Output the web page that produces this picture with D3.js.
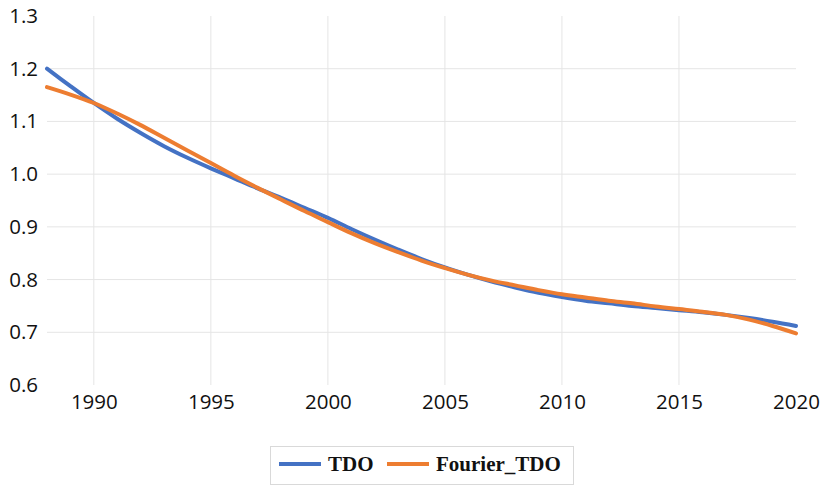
<!DOCTYPE html>
<html>
<head>
<meta charset="utf-8">
<script src="https://cdn.jsdelivr.net/npm/d3@7"></script>
<style>
  body { margin: 0; background: #fff; }
  svg { display: block; }
</style>
</head>
<body>
<script>
(function(d3) {
	var years = d3.range(1988, 2021);
	var tdo = [1.200, 1.167, 1.135, 1.105, 1.078, 1.053, 1.031, 1.011, 0.992, 0.973,
		0.955, 0.936, 0.917, 0.896, 0.876, 0.857, 0.839, 0.823, 0.809, 0.796,
		0.785, 0.775, 0.767, 0.760, 0.755, 0.750, 0.746, 0.742, 0.738, 0.733,
		0.727, 0.720, 0.712];
	var fourierTdo = [1.165, 1.151, 1.135, 1.115, 1.093, 1.069, 1.045, 1.021, 0.997, 0.974,
		0.952, 0.930, 0.909, 0.888, 0.869, 0.852, 0.836, 0.822, 0.809, 0.798,
		0.789, 0.780, 0.772, 0.766, 0.760, 0.755, 0.749, 0.744, 0.739, 0.733,
		0.724, 0.712, 0.698];
	var xTicks = [1990, 1995, 2000, 2005, 2010, 2015, 2020];
	var yTicks = [0.6, 0.7, 0.8, 0.9, 1.0, 1.1, 1.2, 1.3];
	var seriesNames = ["TDO", "Fourier_TDO"];
	var colors = ["#4472c4", "#ed7d31"];

	var width = 825,
	    height = 485;

	var svg = d3.select("body").append("svg")
	    .attr("width", width)
	    .attr("height", height);

	var x = d3.scaleLinear().domain([1988, 2020]).range([47, 796]);
	var y = d3.scaleLinear().domain([0.6, 1.3]).range([385, 16]);

	// grid
	svg.append("g").selectAll("line.h")
		.data(yTicks.filter(function(d){ return d > 0.65 && d < 1.25; }))
	  .enter().append("line")
		.attr("x1", x(1988)).attr("x2", x(2020))
		.attr("y1", function(d){ return y(d); })
		.attr("y2", function(d){ return y(d); })
		.attr("stroke", "#e5e5e5").attr("stroke-width", 1);

	svg.append("g").selectAll("line.v")
		.data(xTicks.filter(function(d){ return d < 2020; }))
	  .enter().append("line")
		.attr("x1", function(d){ return x(d); })
		.attr("x2", function(d){ return x(d); })
		.attr("y1", y(1.3)).attr("y2", y(0.6))
		.attr("stroke", "#e5e5e5").attr("stroke-width", 1);

	// axis labels
	var yAxis = svg.append("g")
		.attr("transform", "translate(38,0)")
		.call(d3.axisLeft(y).tickValues(yTicks).tickSize(0).tickPadding(0)
			.tickFormat(d3.format(".1f")));
	yAxis.select(".domain").remove();
	yAxis.selectAll("text")
		.attr("font-family", "'Open Sans', sans-serif")
		.attr("font-size", 20.5)
		.attr("fill", "#111");

	var xAxis = svg.append("g")
		.attr("transform", "translate(0,394)")
		.call(d3.axisBottom(x).tickValues(xTicks).tickSize(0).tickPadding(0)
			.tickFormat(d3.format("d")));
	xAxis.select(".domain").remove();
	xAxis.selectAll("text")
		.attr("font-family", "'Open Sans', sans-serif")
		.attr("font-size", 20.5)
		.attr("fill", "#111");

	// lines
	var line = d3.line()
		.x(function(d, i){ return x(years[i]); })
		.y(function(d){ return y(d); })
		.curve(d3.curveCatmullRom.alpha(0.5));

	[tdo, fourierTdo].forEach(function(vals, i) {
		svg.append("path")
			.datum(vals)
			.attr("d", line)
			.attr("fill", "none")
			.attr("stroke", colors[i])
			.attr("stroke-width", 4)
			.attr("stroke-linecap", "round");
	});

	// legend
	var legend = svg.append("g");
	legend.append("rect")
		.attr("x", 270.5).attr("y", 446.5)
		.attr("width", 303).attr("height", 38)
		.attr("fill", "#fff").attr("stroke", "#d9d9d9");

	var items = [{x: 279, name: seriesNames[0], color: colors[0]},
		{x: 387, name: seriesNames[1], color: colors[1]}];
	items.forEach(function(it) {
		legend.append("line")
			.attr("x1", it.x).attr("x2", it.x + 42)
			.attr("y1", 464).attr("y2", 464)
			.attr("stroke", it.color).attr("stroke-width", 4);
		legend.append("text")
			.attr("x", it.x + 49).attr("y", 471)
			.attr("font-family", "'Liberation Serif', 'Times New Roman', serif")
			.attr("font-weight", "bold")
			.attr("font-size", 21)
			.attr("fill", "#111")
			.text(it.name);
	});
})(d3);
</script>
</body>
</html>
